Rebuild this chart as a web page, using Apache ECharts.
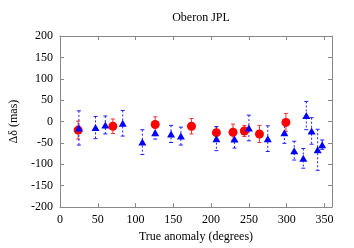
<!DOCTYPE html>
<html><head><meta charset="utf-8">
<script src="https://cdn.jsdelivr.net/npm/echarts@6/dist/echarts.min.js"></script>
<style>html,body{margin:0;padding:0;background:#fff}#c{width:354px;height:248px}</style>
</head><body><div id="c"></div>
<script>
const titleText = 'Oberon JPL';
const xName = 'True anomaly (degrees)';
const yName = 'Δδ (mas)';
const redX = [24, 70, 126, 174, 207, 229, 244, 264, 299];
const redY = [-20, -11, -7, -11, -26, -25, -22, -29, -2];
const redErr = [21, 17, 18, 18, 14, 19, 13, 20, 21];
const blueX = [25, 47, 60, 83, 109, 126, 147, 160, 207, 231, 250, 275, 297, 310, 322, 326, 333, 341, 347];
const blueY = [-15, -14, -8, -4, -48, -26, -29, -34, -40, -41, -15, -40, -26, -68, -86, 14, -22, -66, -54];
const blueErr = [40, 26, 21, 30, 29, 15, 20, 21, 28, 21, 30, 30, 25, 22, 23, 33, 31, 48, 11];
const xTicks = [0, 50, 100, 150, 200, 250, 300, 350];
const yTicks = [-200, -150, -100, -50, 0, 50, 100, 150, 200];

const font = 'Liberation Serif';
function errSeries(xs, ys, es, color, dash) {
  return {
    type: 'custom', z: 2,
    data: xs.map((x, i) => [x, ys[i], es[i]]),
    renderItem: function (params, api) {
      const x = api.value(0), y = api.value(1), e = api.value(2);
      const t = api.coord([x, y + e]), b = api.coord([x, y - e]);
      const st = {stroke: color, lineWidth: 1, lineDash: dash};
      return {type: 'group', children: [
        {type: 'line', shape: {x1: t[0], y1: t[1], x2: b[0], y2: b[1]}, style: st},
        {type: 'line', shape: {x1: t[0] - 2, y1: t[1], x2: t[0] + 2, y2: t[1]}, style: {stroke: color, lineWidth: 1}},
        {type: 'line', shape: {x1: b[0] - 2, y1: b[1], x2: b[0] + 2, y2: b[1]}, style: {stroke: color, lineWidth: 1}}
      ]};
    }
  };
}
const chart = echarts.init(document.getElementById('c'), null, {renderer: 'canvas'});
const axisLine = {show: true, onZero: false, lineStyle: {color: '#888', width: 1}};
const tick = {inside: true, length: 4, lineStyle: {color: '#888'}};
chart.setOption({
  animation: false,
  title: {text: titleText, left: 196, top: 7, textAlign: 'center',
    textStyle: {fontFamily: font, fontSize: 12, fontWeight: 'normal', color: '#000'}},
  grid: {left: 60, right: 22, top: 36, bottom: 40},
  xAxis: [{
    type: 'value', min: 0, max: 360, interval: 50, position: 'bottom',
    name: xName, nameLocation: 'middle', nameGap: 23,
    nameTextStyle: {fontFamily: font, fontSize: 12, color: '#000'},
    axisLine: axisLine, axisTick: tick,
    axisLabel: {fontFamily: font, fontSize: 12, color: '#000', margin: 7, showMaxLabel: false,
      formatter: v => xTicks.includes(v) ? String(v) : ''},
    splitLine: {show: false}
  }, {
    type: 'value', min: 0, max: 360, interval: 50, position: 'top',
    axisLine: axisLine, axisTick: tick,
    axisLabel: {show: false}, splitLine: {show: false}
  }],
  yAxis: [{
    type: 'value', min: -200, max: 200, interval: 50, position: 'left',
    name: yName, nameLocation: 'middle', nameGap: 40,
    nameTextStyle: {fontFamily: font, fontSize: 12, color: '#000'},
    axisLine: axisLine, axisTick: tick,
    axisLabel: {fontFamily: font, fontSize: 12, color: '#000', margin: 7,
      formatter: v => yTicks.includes(v) ? String(v) : ''},
    splitLine: {show: false}
  }, {
    type: 'value', min: -200, max: 200, interval: 50, position: 'right',
    axisLine: axisLine, axisTick: tick,
    axisLabel: {show: false}, splitLine: {show: false}
  }],
  series: [
    errSeries(redX, redY, redErr, '#ff3030', null),
    {type: 'scatter', z: 3, symbol: 'circle', symbolSize: 9,
      itemStyle: {color: '#ff0000', opacity: 1},
      data: redX.map((x, i) => [x, redY[i]])},
    errSeries(blueX, blueY, blueErr, '#2020ff', [2, 2]),
    {type: 'scatter', z: 4, symbol: 'triangle', symbolSize: [8, 7],
      itemStyle: {color: '#0000ff', opacity: 1},
      data: blueX.map((x, i) => [x, blueY[i]])}
  ]
});
</script></body></html>
